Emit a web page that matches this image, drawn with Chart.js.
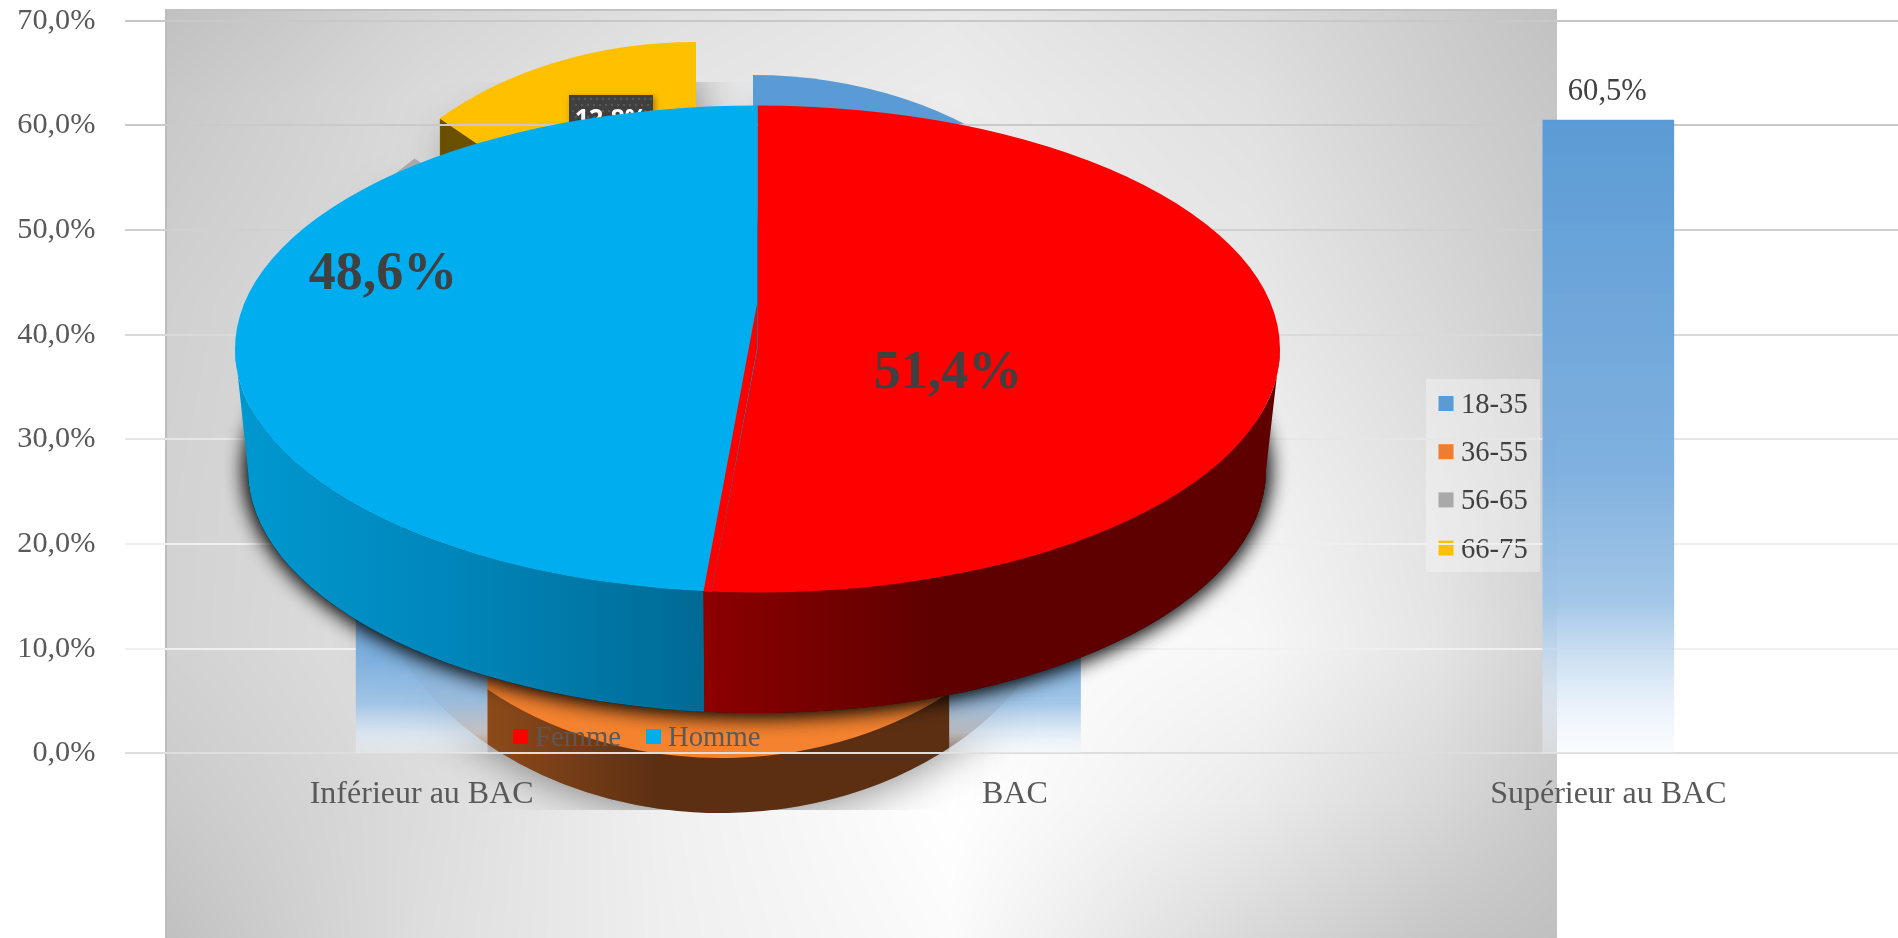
<!DOCTYPE html>
<html lang="fr"><head><meta charset="utf-8">
<script src="https://cdn.jsdelivr.net/npm/chart.js@4"></script>
<style>
html,body{margin:0;padding:0;background:#fff;width:1898px;height:938px;overflow:hidden}
canvas{position:absolute;left:0;top:0}
</style></head><body>
<canvas id="panel" width="1392" height="929" style="left:165px;top:9px"></canvas>
<canvas id="age" width="1898" height="938"></canvas>
<canvas id="bars" width="1905" height="938"></canvas>
<canvas id="gender" width="1898" height="938"></canvas>
<script>
const levelLabels=['Inférieur au BAC','BAC','Supérieur au BAC'];
const levelValues=[19.7,19.8,60.5];
const ageLabels=['18-35','36-55','56-65','66-75'];
const ageValues=[27.8,43.0,16.4,12.8];
const genderLabels=['Femme','Homme'];
const genderValues=[51.4,48.6];
const yTicks=[0,10,20,30,40,50,60,70];

const SERIF='"Liberation Serif"';
const fmt=v=>v.toFixed(1).replace('.',',')+'%';
const ageColors=['#5B9BD5','#F4822F','#A9A9A9','#FFC000'];
const genderColors=['#FF0000','#00AEEF'];
Chart.defaults.animation=false;
Chart.defaults.devicePixelRatio=1;

/* ---- backdrop panel shading (grey levels sampled over the panel) ---- */
(function(){
 const xs=[165,424,667,950,1253,1435,1557];
 const ys=[9,100,300,500,640,800,938];
 const g=[[0xc0,0xd4,0xe0,0xe8,0xda,0xcc,0xc1],
          [0xc8,0xda,0xe5,0xec,0xe0,0xcf,0xc6],
          [0xd0,0xdd,0xea,0xf0,0xe8,0xd8,0xcc],
          [0xd2,0xde,0xeb,0xfa,0xf2,0xe2,0xd0],
          [0xd2,0xe0,0xf0,0xff,0xf7,0xe5,0xd2],
          [0xca,0xdc,0xf0,0xff,0xeb,0xd8,0xc8],
          [0xc0,0xde,0xef,0xfb,0xd8,0xc6,0xc0]];
 const c=document.getElementById('panel'),ctx=c.getContext('2d'),im=ctx.createImageData(c.width,c.height),d=im.data;
 const seg=(a,v)=>{let i=0;while(i<a.length-2&&v>a[i+1])i++;const f=Math.min(1,Math.max(0,(v-a[i])/(a[i+1]-a[i])));return [i,f];};
 for(let y=0;y<c.height;y++){const [j,fy]=seg(ys,y+9);
  for(let x=0;x<c.width;x++){const [i,fx]=seg(xs,x+165);
   const v=(g[j][i]*(1-fx)+g[j][i+1]*fx)*(1-fy)+(g[j+1][i]*(1-fx)+g[j+1][i+1]*fx)*fy;
   const p=(y*c.width+x)*4;d[p]=d[p+1]=d[p+2]=v;d[p+3]=255;}}
 ctx.putImageData(im,0,0);
 ctx.fillStyle='#c2c2c2';ctx.fillRect(0,0,c.width,2);
 ctx.fillStyle='#bcbcbc';ctx.fillRect(0,0,2,c.height);
})();

/* ---- age pie: every slice is exploded and tilted on its own ---- */
const agePlace=[
 {x:753,y:325,rx:356,ry:250,d:50,side:'#2E4E6B'},
 {x:721,y:478,rx:356,ry:280,d:55,side:null},
 {x:671,y:332,rx:356,ry:250,d:40,side:'#555555'},
 {x:696,y:292,rx:356,ry:250,d:38,side:'#6B5000'}];
function wedge(ctx,p,a,b,dy){ctx.beginPath();ctx.moveTo(p.x,p.y+dy);ctx.ellipse(p.x,p.y+dy,p.rx,p.ry,0,a,b);ctx.closePath();}
function drawTop(ctx,el,p){
 ctx.save();ctx.translate(p.x,p.y);ctx.scale(p.rx/el.outerRadius,p.ry/el.outerRadius);ctx.translate(-el.x,-el.y);
 el.draw(ctx);ctx.restore();
}
const agePlugin={id:'agePie',
 beforeDatasetDraw(chart){
  const ctx=chart.ctx,arcs=chart.getDatasetMeta(0).data;
  ctx.save();ctx.beginPath();ctx.rect(0,82,1898,728);ctx.clip();
  ctx.shadowColor='rgba(0,0,0,.5)';ctx.shadowBlur=46;ctx.fillStyle='#888';
  arcs.forEach((el,i)=>{wedge(ctx,agePlace[i],el.startAngle,el.endAngle,agePlace[i].d);ctx.fill();});
  ctx.restore();
  [2,3,0,1].forEach(i=>{
   const el=arcs[i],p=agePlace[i];
   let fill=p.side;
   if(!fill){fill=ctx.createLinearGradient(490,0,660,0);fill.addColorStop(0,'#8C4A1B');fill.addColorStop(1,'#5C2F12');}
   ctx.fillStyle=fill;
   for(let k=p.d;k>=1;k--){wedge(ctx,p,el.startAngle,el.endAngle,k);ctx.fill();}
  });
  [2,3,0,1].forEach(i=>drawTop(ctx,arcs[i],agePlace[i]));
  return false;
 },
 afterDraw(chart){
  const ctx=chart.ctx;
  ctx.save();
  /* 12,8% tag on the yellow slice */
  ctx.shadowColor='rgba(0,0,0,.35)';ctx.shadowBlur=6;ctx.shadowOffsetX=2;ctx.shadowOffsetY=2;
  ctx.fillStyle='#404040';ctx.fillRect(569,95,84,50);
  ctx.shadowColor='transparent';ctx.shadowBlur=0;ctx.shadowOffsetX=0;ctx.shadowOffsetY=0;
  ctx.fillStyle='rgba(255,255,255,.13)';
  for(let y=98;y<145;y+=6)for(let x=572+((y-98)%12?3:0);x<653;x+=6)ctx.fillRect(x,y,2,2);
  ctx.fillStyle='#fff';ctx.font='bold 25px "Open Sans"';ctx.textAlign='center';ctx.textBaseline='middle';
  ctx.fillText(fmt(ageValues[3]),611,120);
  /* legend */
  ctx.fillStyle='rgba(255,255,255,.32)';ctx.fillRect(1426,379,114,193);
  ctx.font='28.6px '+SERIF;ctx.textAlign='left';
  chart.data.labels.forEach((t,i)=>{
   const cy=403.5+48.2*i;
   ctx.fillStyle=i===1?'#ED7D31':ageColors[i];ctx.fillRect(1438.5,cy-7.5,15,15);
   ctx.fillStyle='#404040';ctx.fillText(t,1461,cy+2);
  });
  ctx.restore();
 }};
new Chart(document.getElementById('age'),{type:'pie',
 data:{labels:ageLabels,datasets:[{data:ageValues,backgroundColor:ageColors,borderWidth:0,clip:false}]},
 options:{responsive:false,layout:{padding:0,autoPadding:false},plugins:{legend:{display:false},tooltip:{enabled:false}}},
 plugins:[agePlugin]});

/* ---- column chart ---- */
const gridShades=['#dedede','#f0f0f0','#efefef','#e6e6e6','#dadada','#d0d0d0','#cacaca','#c8c8c8'];
function barFill(c){
 const s=c.chart.scales.y;
 if(!s||c.dataIndex===undefined)return '#5B9BD5';
 const y0=s.getPixelForValue(levelValues[c.dataIndex]),y1=s.getPixelForValue(0);
 if(!isFinite(y0)||!isFinite(y1))return '#5B9BD5';
 const g=c.chart.ctx.createLinearGradient(0,y0,0,y1);
 g.addColorStop(0,'rgba(91,155,213,1)');
 g.addColorStop(.55,'rgba(125,175,222,.98)');
 g.addColorStop(.76,'rgba(157,195,230,.94)');
 g.addColorStop(.9,'rgba(215,230,245,.75)');
 g.addColorStop(1,'rgba(240,247,253,.35)');
 return g;
}
const valueLabels={id:'valueLabels',afterDatasetsDraw(chart){
 const ctx=chart.ctx;ctx.save();ctx.font='30.6px '+SERIF;ctx.fillStyle='#404040';ctx.textAlign='center';ctx.textBaseline='middle';
 chart.getDatasetMeta(0).data.forEach((b,i)=>ctx.fillText(fmt(levelValues[i]),b.x-1,b.y-28));
 ctx.restore();}};
new Chart(document.getElementById('bars'),{type:'bar',
 data:{labels:levelLabels,datasets:[{label:'Niveau',data:levelValues,backgroundColor:barFill,borderWidth:0,barThickness:131}]},
 options:{responsive:false,layout:{padding:{top:20.7,left:0,right:0,bottom:0},autoPadding:false},
  plugins:{legend:{display:false},tooltip:{enabled:false}},
  scales:{
   x:{afterFit(s){s.height=938-753.3;s.paddingLeft=0;s.paddingRight=0;},grid:{display:false},border:{display:false},
      ticks:{color:'#595959',font:{family:SERIF,size:32},padding:14,maxRotation:0,autoSkip:false}},
   y:{min:0,max:70,afterFit(s){s.width=125;s.paddingTop=0;s.paddingBottom=0;},border:{display:false},
      afterBuildTicks(s){s.ticks=yTicks.map(v=>({value:v}));},
      grid:{drawTicks:false,lineWidth:2,color:c=>gridShades[c.index]},
      ticks:{color:'#595959',font:{family:SERIF,size:30.3},padding:29.5,callback:v=>fmt(v)}}}},
 plugins:[valueLabels]});

/* ---- main 3D pie ---- */
const top3d={x:757.5,y:349,rx:522.5,ry:243.5};
const base3d={x:757,y:470,rx:509,ry:243};
const bendX=54,bendY=45;
const genderPlugin={id:'genderPie',
 beforeDatasetDraw(chart){
  const ctx=chart.ctx,arcs=chart.getDatasetMeta(0).data;
  const split=Math.acos(-bendX/top3d.rx);
  ctx.save();
  ctx.shadowColor='rgba(0,0,0,.9)';ctx.shadowBlur=22;ctx.fillStyle='#222';
  for(let n=0;n<2;n++){ctx.beginPath();ctx.ellipse(base3d.x,base3d.y,base3d.rx,base3d.ry,0,0,Math.PI*2);ctx.fill();}
  ctx.restore();
  const band=(a,b,fill)=>{ctx.beginPath();ctx.ellipse(top3d.x,top3d.y,top3d.rx,top3d.ry,0,a,b);
   ctx.ellipse(base3d.x,base3d.y,base3d.rx,base3d.ry,0,b,a,true);ctx.closePath();ctx.fillStyle=fill;ctx.fill();};
  const rg=ctx.createLinearGradient(703,0,930,0);rg.addColorStop(0,'#8D0000');rg.addColorStop(1,'#5F0000');
  const bg=ctx.createLinearGradient(249,0,703,0);bg.addColorStop(0,'#0097CF');bg.addColorStop(.45,'#0086BA');bg.addColorStop(1,'#006A94');
  band(split,Math.PI,bg);band(0,split,rg);
  arcs.forEach(el=>drawTop(ctx,el,top3d));
  /* perspective: the pie's apex sits above the ellipse centre */
  const end=arcs[0].endAngle;
  ctx.beginPath();ctx.moveTo(top3d.x-.5,top3d.y-bendY);ctx.lineTo(top3d.x-.5,top3d.y);
  ctx.lineTo(top3d.x+top3d.rx*Math.cos(end),top3d.y+top3d.ry*Math.sin(end));
  ctx.lineTo(top3d.x-bendX,top3d.y+top3d.ry*Math.sin(split));ctx.closePath();ctx.fillStyle=genderColors[0];ctx.fill();
  return false;
 },
 afterDraw(chart){
  const ctx=chart.ctx;ctx.save();
  ctx.fillStyle='#404040';ctx.font='bold 54px '+SERIF;ctx.textAlign='center';ctx.textBaseline='middle';
  ctx.fillText(fmt(genderValues[0]),948,374);
  ctx.fillText(fmt(genderValues[1]),383,275);
  ctx.font='28.7px '+SERIF;ctx.textAlign='left';
  [[513,535],[646,668]].forEach(([sx,tx],i)=>{
   ctx.fillStyle=genderColors[i];ctx.fillRect(sx,729,15,15);
   ctx.fillStyle='#595959';ctx.fillText(chart.data.labels[i],tx,738);
  });
  ctx.restore();
 }};
new Chart(document.getElementById('gender'),{type:'pie',
 data:{labels:genderLabels,datasets:[{data:genderValues,backgroundColor:genderColors,borderWidth:0,clip:false}]},
 options:{responsive:false,layout:{padding:0,autoPadding:false},plugins:{legend:{display:false},tooltip:{enabled:false}}},
 plugins:[genderPlugin]});
</script>
</body></html>
